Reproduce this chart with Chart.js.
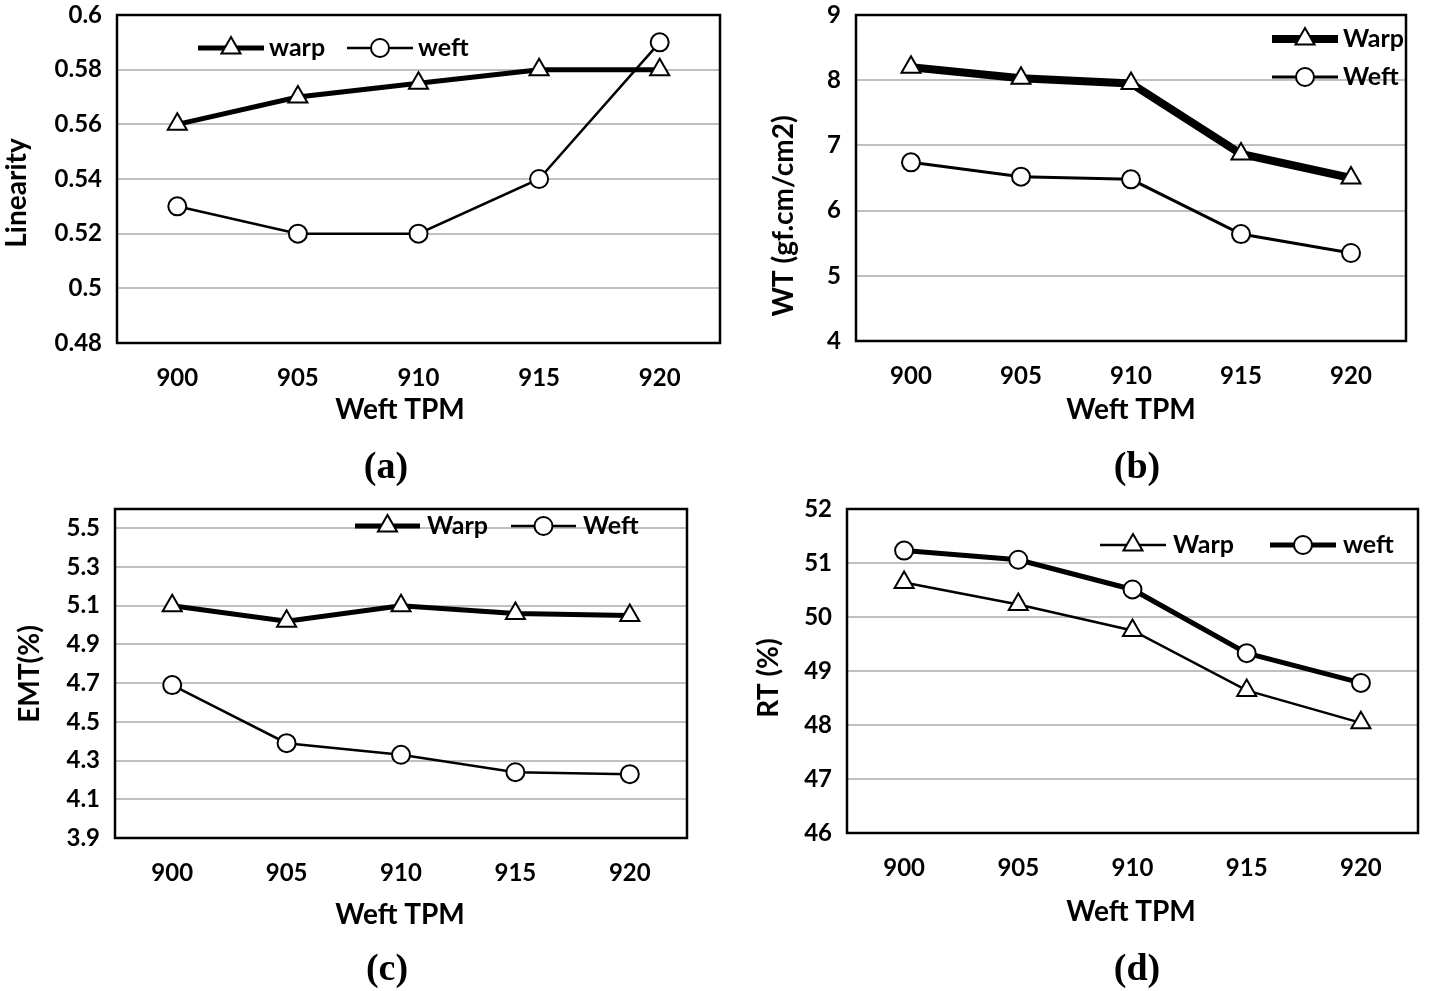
<!DOCTYPE html>
<html>
<head>
<meta charset="utf-8">
<script src="https://cdn.jsdelivr.net/npm/chart.js@4.4.1/dist/chart.umd.min.js"></script>
<style>
    html, body { margin: 0; padding: 0; background: #fff; }
    body { width: 1431px; height: 991px; position: relative; overflow: hidden; }
    /* canvases start above the page so the top tick label has room */
    .layer { position: absolute; left: 0; top: -40px; width: 1431px; height: 1031px; }
    .tag {
        position: absolute;
        font-family: "Liberation Serif", "Times New Roman", serif;
        font-weight: bold;
        font-size: 38px;
        color: #000;
        transform: translate(-50%, -50%);
        line-height: 1;
    }
</style>
</head>
<body>
<div class="layer"><canvas id="chartA"></canvas></div>
<div class="layer"><canvas id="chartB"></canvas></div>
<div class="layer"><canvas id="chartC"></canvas></div>
<div class="layer"><canvas id="chartD"></canvas></div>
<div class="tag" style="left:386px;top:465px;">(a)</div>
<div class="tag" style="left:1137px;top:465px;">(b)</div>
<div class="tag" style="left:387px;top:967px;">(c)</div>
<div class="tag" style="left:1137px;top:967px;">(d)</div>

<script>
// Weft twist levels (x axis)
const TPM = ['900', '905', '910', '915', '920'];

// (a) Linearity
const LIN_WARP = [0.56, 0.57, 0.575, 0.58, 0.58];
const LIN_WEFT = [0.53, 0.52, 0.52, 0.54, 0.59];
const LIN_TICKS = [0.48, 0.5, 0.52, 0.54, 0.56, 0.58, 0.6];

// (b) WT
const WT_WARP = [8.2, 8.03, 7.95, 6.87, 6.5];
const WT_WEFT = [6.74, 6.52, 6.48, 5.64, 5.35];
const WT_TICKS = [4, 5, 6, 7, 8, 9];

// (c) EMT
const EMT_WARP = [5.1, 5.02, 5.1, 5.06, 5.05];
const EMT_WEFT = [4.69, 4.39, 4.33, 4.24, 4.23];
const EMT_TICKS = [3.9, 4.1, 4.3, 4.5, 4.7, 4.9, 5.1, 5.3, 5.5];

// (d) RT
const RT_WARP = [50.64, 50.23, 49.75, 48.64, 48.04];
const RT_WEFT = [51.23, 51.06, 50.51, 49.33, 48.78];
const RT_TICKS = [46, 47, 48, 49, 50, 51, 52];

const FONT = 'Lato';
const SHIFT = 40; // canvas sits SHIFT px above the page
const PAGE_W = 1431, PAGE_H = 991 + SHIFT;

// black box round the plot area
const framePlugin = {
    id: 'frame',
    beforeDatasetsDraw(chart) {
        const { ctx, chartArea: a } = chart;
        ctx.save();
        ctx.strokeStyle = '#000';
        ctx.lineWidth = 2.5;
        ctx.strokeRect(a.left, a.top, a.right - a.left, a.bottom - a.top);
        ctx.restore();
    }
};

// Excel-like legend: line sample with the marker on it
const lineLegendPlugin = {
    id: 'lineLegend',
    afterDatasetsDraw(chart, args, opts) {
        const ctx = chart.ctx;
        chart.data.datasets.forEach((ds, i) => {
            const it = opts.items[i];
            const y = it.y + SHIFT;
            ctx.save();
            ctx.strokeStyle = '#000';
            ctx.lineWidth = ds.borderWidth;
            ctx.beginPath();
            ctx.moveTo(it.x, y);
            ctx.lineTo(it.x + opts.len, y);
            ctx.stroke();
            ctx.fillStyle = '#fff';
            ctx.lineWidth = ds.pointBorderWidth;
            Chart.helpers.drawPoint(ctx, {
                pointStyle: ds.pointStyle,
                radius: ds.pointRadius,
                borderWidth: ds.pointBorderWidth,
                rotation: 0
            }, it.x + opts.len / 2, y);
            ctx.fillStyle = '#000';
            ctx.font = 'bold 25px ' + FONT;
            ctx.textBaseline = 'middle';
            ctx.textAlign = 'left';
            ctx.fillText(ds.label, it.x + opts.len + opts.gap, y);
            ctx.restore();
        });
    }
};

// axis titles placed where the original figure has them
const axisTitlePlugin = {
    id: 'axisTitles',
    afterDraw(chart, args, opts) {
        const ctx = chart.ctx;
        ctx.save();
        ctx.fillStyle = '#000';
        ctx.font = 'bold 28px ' + FONT;
        ctx.textAlign = 'center';
        ctx.textBaseline = 'middle';
        ctx.fillText(opts.xText, opts.xPos[0], opts.xPos[1] + SHIFT);
        ctx.translate(opts.yPos[0], opts.yPos[1] + SHIFT);
        ctx.rotate(-Math.PI / 2);
        ctx.fillText(opts.yText, 0, 0);
        ctx.restore();
    }
};

function series(label, data, marker, width) {
    return {
        label: label,
        data: data,
        borderColor: '#000',
        borderWidth: width,
        pointStyle: marker,
        pointRadius: marker === 'triangle' ? 11 : 9,
        pointBorderWidth: 2,
        pointBackgroundColor: '#fff',
        pointBorderColor: '#000',
        tension: 0,
        fill: false
    };
}

function panelChart(id, p) {
    const yw = 90, xh = 60;
    return new Chart(document.getElementById(id), {
        type: 'line',
        data: { labels: TPM, datasets: p.datasets },
        options: {
            responsive: true,
            maintainAspectRatio: false,
            animation: false,
            events: [],
            layout: {
                padding: {
                    left: p.box.left - yw,
                    top: p.box.top + SHIFT,
                    right: PAGE_W - p.box.right,
                    bottom: PAGE_H - (p.box.bottom + SHIFT) - xh
                }
            },
            plugins: {
                legend: { display: false },
                tooltip: { enabled: false },
                lineLegend: p.legend,
                axisTitles: p.titles
            },
            scales: {
                x: {
                    offset: true,
                    grid: { display: false, drawTicks: false },
                    border: { display: false },
                    ticks: { color: '#000', padding: 21, font: { family: FONT, size: 24, weight: 'bold' } },
                    afterFit: s => { s.height = xh; }
                },
                y: {
                    min: p.min,
                    max: p.max,
                    afterBuildTicks: s => { s.ticks = p.ticks.map(v => ({ value: v })); },
                    grid: { color: '#c0c0c0', lineWidth: 2, drawTicks: false },
                    border: { display: false },
                    ticks: {
                        color: '#000', padding: 15,
                        font: { family: FONT, size: 24, weight: 'bold' },
                        callback: v => String(v)
                    },
                    afterFit: s => { s.width = yw; }
                }
            }
        },
        plugins: [framePlugin, lineLegendPlugin, axisTitlePlugin]
    });
}

panelChart('chartA', {
    box: { left: 117, top: 15, right: 720, bottom: 343 },
    min: 0.48, max: 0.6, ticks: LIN_TICKS,
    datasets: [
        series('warp', LIN_WARP, 'triangle', 5),
        series('weft', LIN_WEFT, 'circle', 2.5)
    ],
    legend: { len: 66, gap: 5, items: [{ x: 198, y: 48 }, { x: 347, y: 48 }] },
    titles: { xText: 'Weft TPM', xPos: [400, 410], yText: 'Linearity', yPos: [17, 193] }
});

panelChart('chartB', {
    box: { left: 856, top: 15, right: 1406, bottom: 341 },
    min: 4, max: 9, ticks: WT_TICKS,
    datasets: [
        series('Warp', WT_WARP, 'triangle', 8),
        series('Weft', WT_WEFT, 'circle', 3)
    ],
    legend: { len: 66, gap: 5, items: [{ x: 1272, y: 39 }, { x: 1272, y: 77 }] },
    titles: { xText: 'Weft TPM', xPos: [1131, 410], yText: 'WT (gf.cm/cm2)', yPos: [784, 216] }
});

panelChart('chartC', {
    box: { left: 115, top: 509, right: 687, bottom: 838 },
    min: 3.9, max: 5.6, ticks: EMT_TICKS,
    datasets: [
        series('Warp', EMT_WARP, 'triangle', 5),
        series('Weft', EMT_WEFT, 'circle', 2.5)
    ],
    legend: { len: 65, gap: 7, items: [{ x: 355, y: 526 }, { x: 511, y: 526 }] },
    titles: { xText: 'Weft TPM', xPos: [400, 915], yText: 'EMT(%)', yPos: [30, 674] }
});

panelChart('chartD', {
    box: { left: 847, top: 509, right: 1427, bottom: 833 },
    min: 46, max: 52, ticks: RT_TICKS,
    datasets: [
        series('Warp', RT_WARP, 'triangle', 2.5),
        series('weft', RT_WEFT, 'circle', 5)
    ],
    legend: { len: 66, gap: 7, items: [{ x: 1100, y: 545 }, { x: 1270, y: 545 }] },
    titles: { xText: 'Weft TPM', xPos: [1131, 912], yText: 'RT (%)', yPos: [769, 678] }
});
</script>
</body>
</html>
